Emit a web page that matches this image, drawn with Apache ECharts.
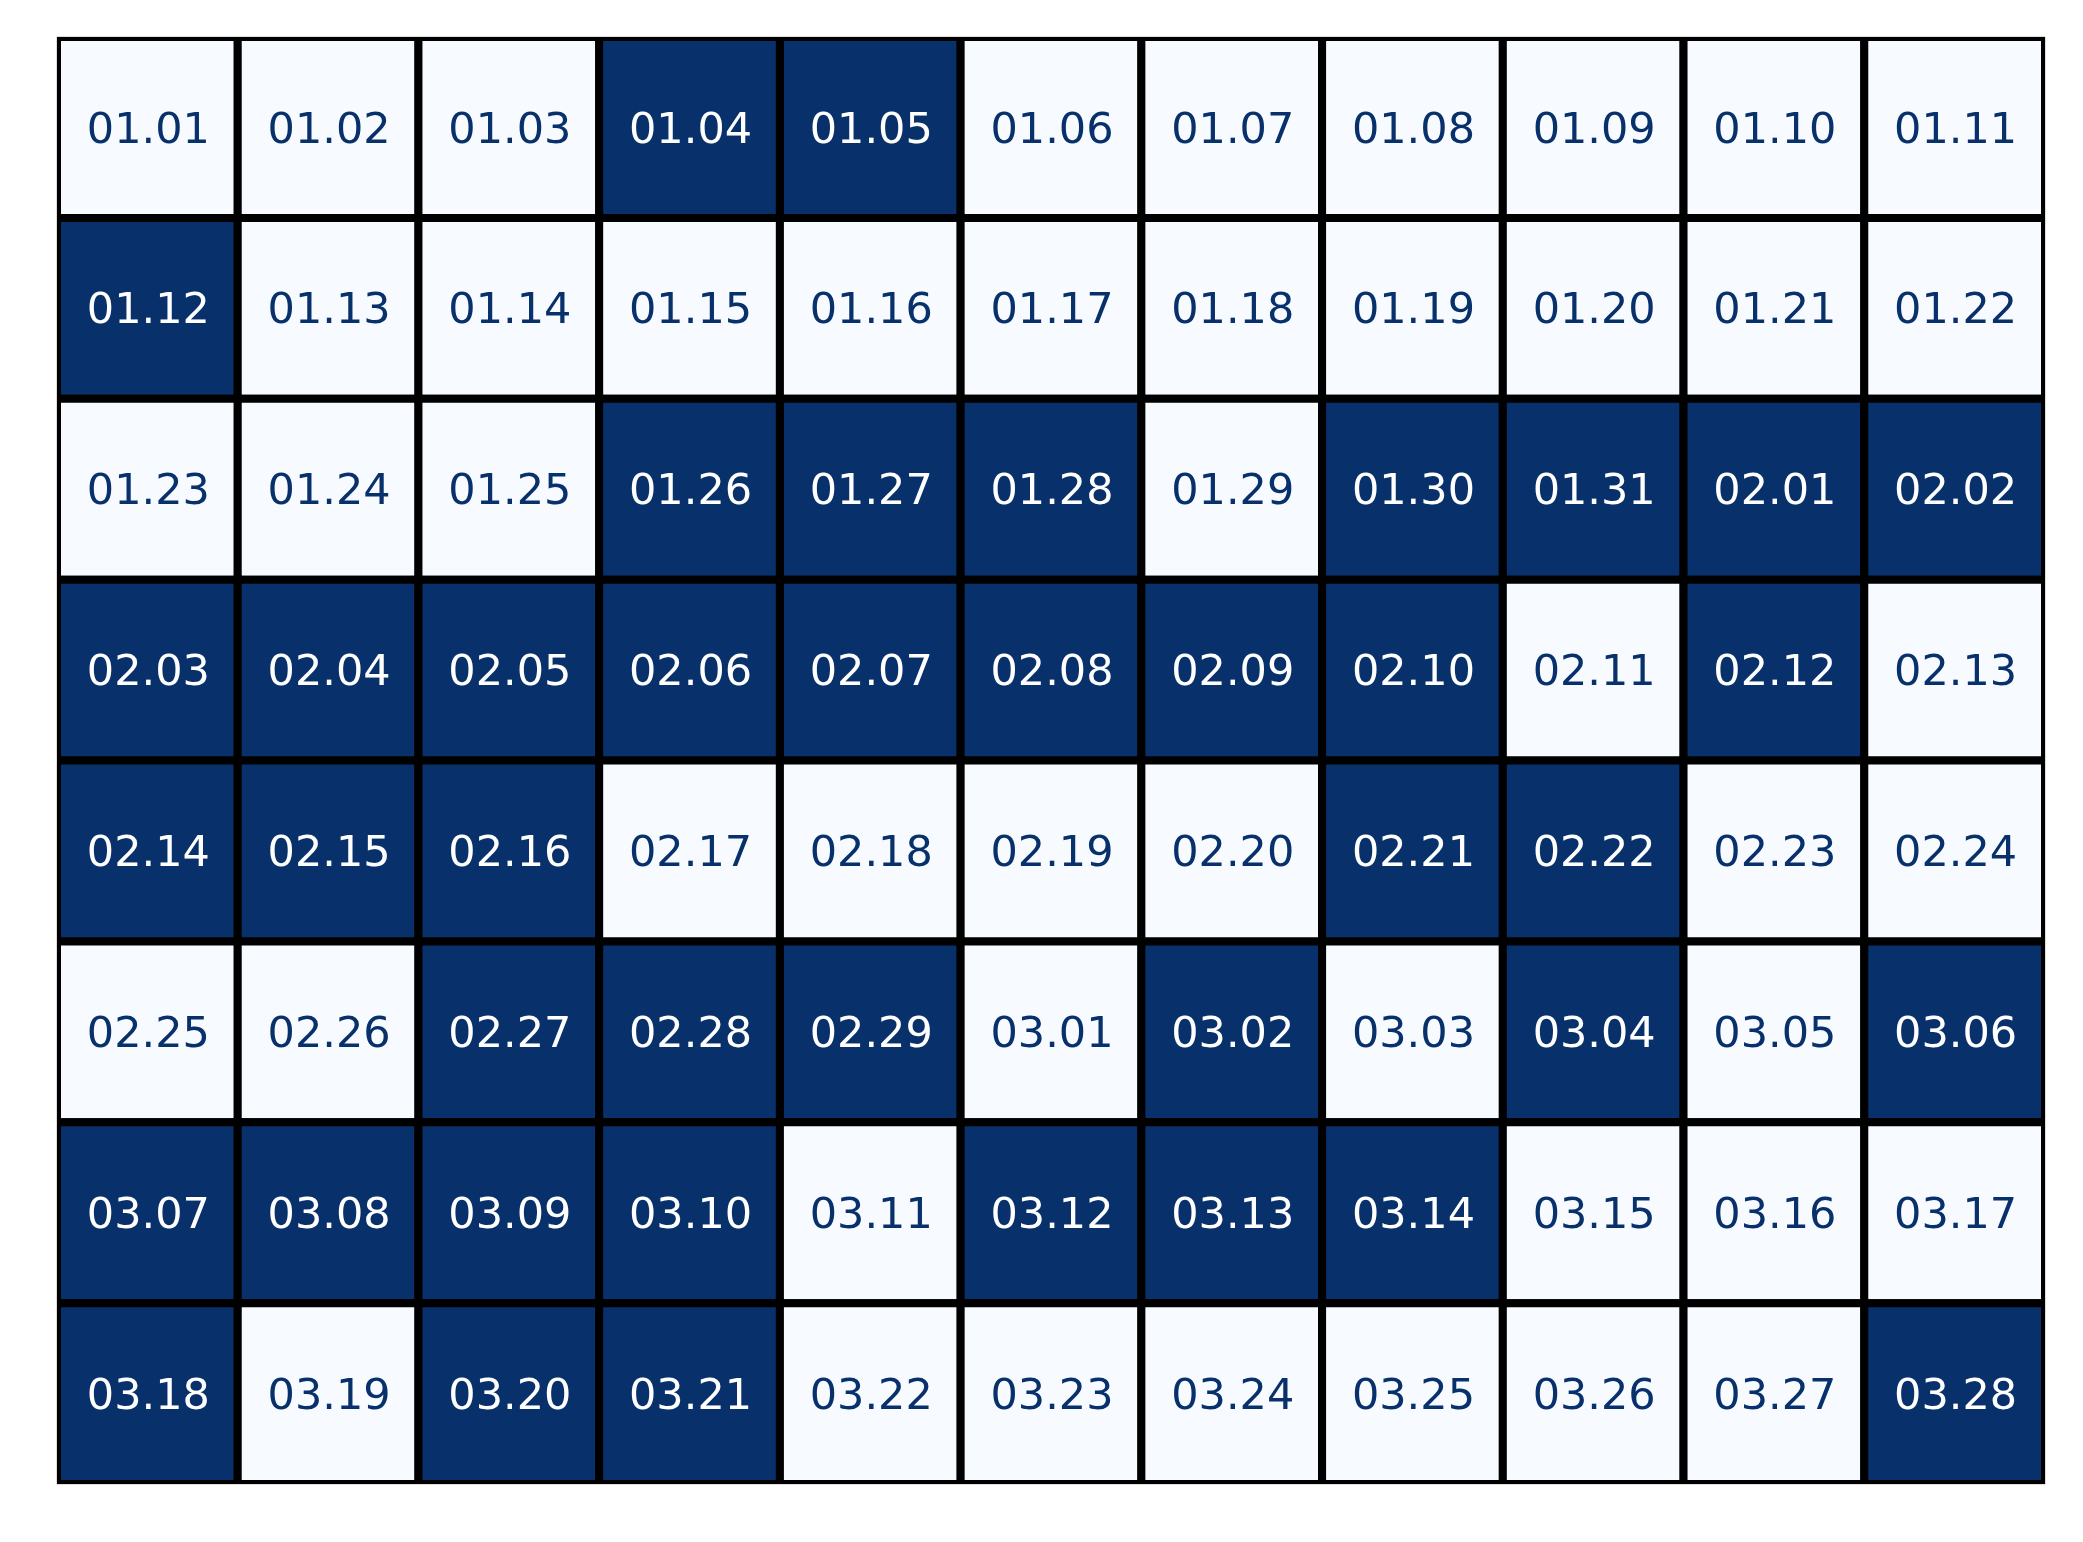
<!DOCTYPE html>
<html>
<head>
<meta charset="utf-8">
<script src="https://cdn.jsdelivr.net/npm/echarts@6/dist/echarts.min.js"></script>
<style>
html,body{margin:0;padding:0;background:#fff;}
#chart{width:2083px;height:1542px;}
</style>
</head>
<body>
<div id="chart"></div>
<script>
// Cell labels, row by row
const labelRows = [
  ['01.01','01.02','01.03','01.04','01.05','01.06','01.07','01.08','01.09','01.10','01.11'],
  ['01.12','01.13','01.14','01.15','01.16','01.17','01.18','01.19','01.20','01.21','01.22'],
  ['01.23','01.24','01.25','01.26','01.27','01.28','01.29','01.30','01.31','02.01','02.02'],
  ['02.03','02.04','02.05','02.06','02.07','02.08','02.09','02.10','02.11','02.12','02.13'],
  ['02.14','02.15','02.16','02.17','02.18','02.19','02.20','02.21','02.22','02.23','02.24'],
  ['02.25','02.26','02.27','02.28','02.29','03.01','03.02','03.03','03.04','03.05','03.06'],
  ['03.07','03.08','03.09','03.10','03.11','03.12','03.13','03.14','03.15','03.16','03.17'],
  ['03.18','03.19','03.20','03.21','03.22','03.23','03.24','03.25','03.26','03.27','03.28']
];
// Cell values (1 = dark, 0 = light), row by row
const valueRows = [
  [0,0,0,1,1,0,0,0,0,0,0],
  [1,0,0,0,0,0,0,0,0,0,0],
  [0,0,0,1,1,1,0,1,1,1,1],
  [1,1,1,1,1,1,1,1,0,1,0],
  [1,1,1,0,0,0,0,1,1,0,0],
  [0,0,1,1,1,0,1,0,1,0,1],
  [1,1,1,1,0,1,1,1,0,0,0],
  [1,0,1,1,0,0,0,0,0,0,1]
];
const columns = ['0','1','2','3','4','5','6','7','8','9','10'];
const rows = ['0','1','2','3','4','5','6','7'];

const fillColors = ['#f7fbff', '#08306b'];
const textColors = ['#08306b', '#ffffff'];

const data = [];
for (let r = 0; r < valueRows.length; r++) {
  for (let c = 0; c < valueRows[r].length; c++) {
    data.push([c, r, valueRows[r][c], labelRows[r][c]]);
  }
}

const chart = echarts.init(document.getElementById('chart'), null, {renderer: 'canvas'});
chart.setOption({
  animation: false,
  backgroundColor: '#ffffff',
  grid: {left: 57, top: 37, right: 38, bottom: 58, show: true, borderColor: '#bbbbbb', borderWidth: 1, backgroundColor: 'transparent'},
  xAxis: {type: 'category', data: columns, show: false},
  yAxis: {type: 'category', data: rows, inverse: true, show: false},
  series: [{
    type: 'custom',
    clip: true,
    data: data,
    encode: {x: 0, y: 1},
    renderItem: function (params, api) {
      const p = api.coord([api.value(0), api.value(1)]);
      const s = api.size([1, 1]);
      const v = api.value(2);
      const label = data[params.dataIndex][3];
      return {
        type: 'group',
        children: [
          {
            type: 'rect',
            shape: {x: p[0] - s[0] / 2, y: p[1] - s[1] / 2, width: s[0], height: s[1]},
            style: {fill: fillColors[v], stroke: '#000000', lineWidth: 8}
          },
          {
            type: 'text',
            style: {
              text: label,
              x: p[0] + 1,
              y: p[1] + 4,
              align: 'center',
              verticalAlign: 'middle',
              fill: textColors[v],
              font: '43px "DejaVu Sans"'
            },
            z2: 10
          }
        ]
      };
    }
  }]
});
</script>
</body>
</html>
